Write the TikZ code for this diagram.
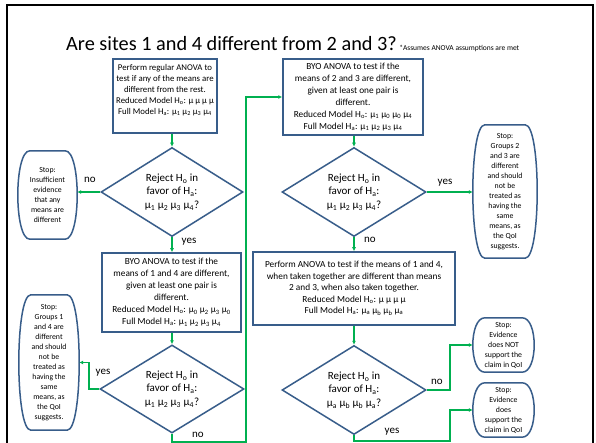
\documentclass[tikz,border=0pt]{standalone}
\usepackage{fontspec}
\setmainfont{Carlito}
\usetikzlibrary{shapes.geometric,arrows.meta,calc}
\definecolor{shapeblue}{RGB}{56,93,138}
\definecolor{flowgreen}{RGB}{0,176,80}
\newcommand\sbs[1]{\textsubscript{#1}}
% flowchart terminator outline: flat top and bottom, half-elliptic sides
\newcommand\terminal[1]{%
  \draw[stopline] ($(#1.north west)+(12,0)$) -- ($(#1.north east)+(-12,0)$)
    .. controls ($(#1.north east)+(4,0)$) and ($(#1.south east)+(4,0)$) .. ($(#1.south east)+(-12,0)$)
    -- ($(#1.south west)+(12,0)$)
    .. controls ($(#1.south west)+(-4,0)$) and ($(#1.north west)+(-4,0)$) .. cycle;}
\begin{document}
\begin{tikzpicture}[x=1pt,y=-1pt,
  every node/.style={inner sep=0pt},
  procbox/.style={draw=shapeblue, line width=1.5pt, fill=white, align=center,
    font=\fontsize{9.3}{12}\selectfont},
  decision/.style={diamond, draw=shapeblue, line width=1.5pt, fill=white, align=center,
    aspect=1.6, font=\fontsize{11}{13.5}\selectfont},
  stopbox/.style={align=center, font=\fontsize{7.8}{10}\selectfont},
  stopline/.style={draw=shapeblue, line width=1.5pt},
  flow/.style={draw=flowgreen, line width=1.2pt, -{Latex[length=4pt,width=4pt]}},
  lbl/.style={font=\fontsize{11}{13}\selectfont},
]
\useasboundingbox (0,0) rectangle (596,443);
\fill[white] (0,0) rectangle (596,443);
\clip (0,0) rectangle (596,443);
\draw[line width=2.5pt] (7,5) rectangle (593,452);

% heading
\node[anchor=base west, font=\fontsize{20.3}{24}\selectfont] (title) at (66,51)
  {Are sites 1 and 4 different from 2 and 3?};
\node[anchor=base west, font=\fontsize{7.5}{9}\selectfont, xshift=2pt] (note) at (title.base east)
  {*Assumes ANOVA assumptions are met};

% process boxes
\node[procbox, minimum width=104pt, minimum height=74pt, font=\fontsize{8.8}{11}\selectfont] (box1) at (165,96)
  {Perform regular ANOVA to\\test if any of the means are\\different from the rest.\\
   Reduced Model H\sbs{o}: μ μ μ μ\\Full Model H\sbs{a}: μ\sbs{1} μ\sbs{2} μ\sbs{3} μ\sbs{4}\\[2pt]\mbox{}};
\node[procbox, minimum width=140pt, minimum height=76pt] (box2) at (353,97)
  {BYO ANOVA to test if the\\means of 2 and 3 are different,\\given at least one pair is\\different.\\
   Reduced Model H\sbs{o}: μ\sbs{1} μ\sbs{0} μ\sbs{0} μ\sbs{4}\\Full Model H\sbs{a}: μ\sbs{1} μ\sbs{2} μ\sbs{3} μ\sbs{4}};
\node[procbox, minimum width=139pt, minimum height=79pt] (box3) at (171.5,292.5)
  {BYO ANOVA to test if the\\means of 1 and 4 are different,\\given at least one pair is\\different.\\
   Reduced Model H\sbs{o}: μ\sbs{0} μ\sbs{2} μ\sbs{3} μ\sbs{0}\\Full Model H\sbs{a}: μ\sbs{1} μ\sbs{2} μ\sbs{3} μ\sbs{4}};
\node[procbox, minimum width=202pt, minimum height=73pt, font=\fontsize{9.3}{11.5}\selectfont] (box4) at (354,288.5)
  {Perform ANOVA to test if the means of 1 and 4,\\when taken together are different than means\\2 and 3, when also taken together.\\
   Reduced Model H\sbs{o}: μ μ μ μ\\Full Model H\sbs{a}: μ\sbs{a} μ\sbs{b} μ\sbs{b} μ\sbs{a}};

% decisions
\node[decision, minimum width=142pt, minimum height=89pt] (d1) at (172,192)
  {Reject H\sbs{o} in\\favor of H\sbs{a}:\\μ\sbs{1} μ\sbs{2} μ\sbs{3} μ\sbs{4}?};
\node[decision, minimum width=144pt, minimum height=89pt] (d2) at (354,192)
  {Reject H\sbs{o} in\\favor of H\sbs{a}:\\μ\sbs{1} μ\sbs{2} μ\sbs{3} μ\sbs{4}?};
\node[decision, minimum width=144pt, minimum height=88pt] (d3) at (172,389)
  {Reject H\sbs{o} in\\favor of H\sbs{a}:\\μ\sbs{1} μ\sbs{2} μ\sbs{3} μ\sbs{4}?};
\node[decision, minimum width=144pt, minimum height=89pt] (d4) at (354,390)
  {Reject H\sbs{o} in\\favor of H\sbs{a}:\\μ\sbs{a} μ\sbs{b} μ\sbs{b} μ\sbs{a}?};

% terminators
\node[stopbox, minimum width=59pt, minimum height=88pt] (stop1) at (47.5,195)
  {Stop:\\Insufficient\\evidence\\that any\\means are\\different};
\node[stopbox, minimum width=64pt, minimum height=133pt] (stop2) at (505,191.5)
  {Stop:\\Groups 2\\and 3 are\\different\\and should\\not be\\treated as\\having the\\same\\means, as\\the QoI\\suggests.};
\node[stopbox, minimum width=60pt, minimum height=135pt] (stop5) at (49,362.5)
  {Stop:\\Groups 1\\and 4 are\\different\\and should\\not be\\treated as\\having the\\same\\means, as\\the QoI\\suggests.};
\node[stopbox, minimum width=61pt, minimum height=54pt] (stop3) at (503.5,345)
  {Stop:\\Evidence\\does NOT\\support the\\claim in QoI};
\node[stopbox, minimum width=61pt, minimum height=54pt] (stop4) at (503.5,410)
  {Stop:\\Evidence\\does\\support the\\claim in QoI};
\foreach \s in {stop1,stop2,stop3,stop4,stop5} {\terminal{\s}}

% elbow points of the routed connectors
\coordinate (c3a) at (89,389);
\coordinate (c3b) at (246,442);
\coordinate (c4a) at (450,390);
\coordinate (c4b) at (450,441);

% connectors
\draw[flow] (box1.south -| d1.north) -- (d1.north);
\draw[flow] (d1.west) -- (d1.west -| stop1.east);
\draw[flow] (d1.south) -- (box3.north -| d1.south);
\draw[flow] (box3.south -| d3.north) -- (d3.north);
\draw[flow] (d3.west) -- (c3a) |- (stop5.east);
\draw[flow] (d3.south) |- (c3b) |- (box2.west);
\draw[flow] (box2.south -| d2.north) -- (d2.north);
\draw[flow] (d2.east) -- (d2.east -| stop2.west);
\draw[flow] (d2.south) -- (box4.north -| d2.south);
\draw[flow] (box4.south -| d4.north) -- (d4.north);
\draw[flow] (d4.east) -- (c4a) |- (stop3.west);
\draw[flow] (d4.south) |- (c4b) |- (stop4.west);

% branch labels
\node[lbl] (l1) at (90,180) {no};
\node[lbl] (l2) at (189,242) {yes};
\node[lbl] (l3) at (445,183) {yes};
\node[lbl] (l4) at (370,240) {no};
\node[lbl] (l5) at (103,373) {yes};
\node[lbl] (l6) at (198,435) {no};
\node[lbl] (l7) at (437,382) {no};
\node[lbl] (l8) at (392,432) {yes};
\end{tikzpicture}
\end{document}
